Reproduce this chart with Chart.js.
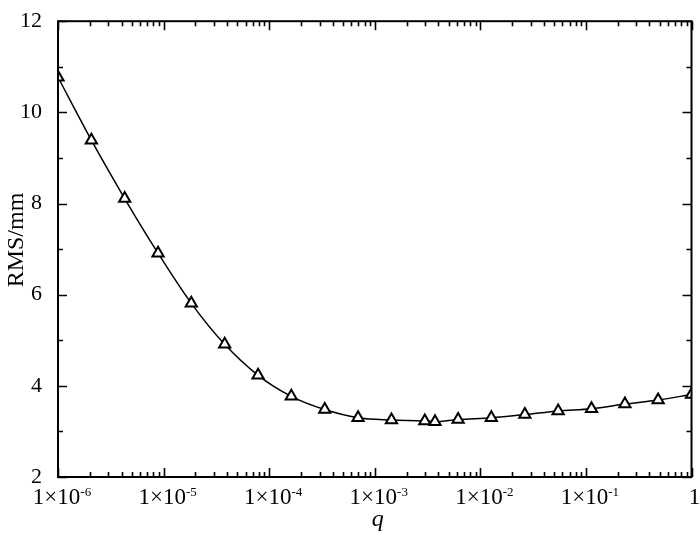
<!DOCTYPE html>
<html>
<head>
<meta charset="utf-8">
<script src="https://cdn.jsdelivr.net/npm/chart.js@4/dist/chart.umd.min.js"></script>
<style>
  html, body { margin: 0; padding: 0; background: #fff; }
  #wrap { width: 700px; height: 535px; font-family: 'Liberation Serif', 'Times New Roman', Times, serif; }
</style>
</head>
<body>
<div id="wrap"><canvas id="rmsChart"></canvas></div>
<script>
// q values
const qValues = [1e-6, 2.07e-6, 4.28e-6, 8.86e-6, 1.83e-5, 3.79e-5, 7.85e-5, 1.62e-4, 3.36e-4,
    6.95e-4, 1.44e-3, 2.98e-3, 3.72e-3, 6.16e-3, 1.27e-2, 2.64e-2, 5.46e-2, 1.13e-1, 2.34e-1,
    4.83e-1, 1];
const rmsValues = [10.77, 9.39, 8.11, 6.91, 5.81, 4.91, 4.23, 3.77, 3.48, 3.30, 3.25, 3.23, 3.21,
    3.26, 3.30, 3.37, 3.45, 3.50, 3.60, 3.69, 3.81];
const xDecades = [-6, -5, -4, -3, -2, -1, 0];
const yTicks = [2, 4, 6, 8, 10, 12];
const xTitle = 'q';
const yTitle = 'RMS/mm';

const serif = "'Liberation Serif', 'Times New Roman', Times, serif";

var points = qValues.map(function(q, i) {
    return { x: q, y: rmsValues[i] };
});

// frame, inward ticks on all four sides, 1x10^n labels and axis titles
const framePlugin = {
    id: 'frame',
    afterDraw: function(chart) {
        const ctx = chart.ctx;
        const a = chart.chartArea;
        const xs = chart.scales.x;
        const ys = chart.scales.y;
        ctx.save();
        ctx.strokeStyle = '#000';
        ctx.lineWidth = 1.6;
        ctx.lineCap = 'butt';
        ctx.beginPath();
        xDecades.forEach(function(e) {
            for (let m = 1; m <= 9; m++) {
                if (e === 0 && m > 1) break;
                const px = Math.round(xs.getPixelForValue(m * Math.pow(10, e))) + 0.5;
                const len = m === 1 ? 9 : 5;
                ctx.moveTo(px, a.bottom); ctx.lineTo(px, a.bottom - len);
                ctx.moveTo(px, a.top); ctx.lineTo(px, a.top + len);
            }
        });
        for (let v = 2; v <= 12; v++) {
            const py = Math.round(ys.getPixelForValue(v)) + 0.5;
            const len = v % 2 === 0 ? 9 : 5;
            ctx.moveTo(a.left, py); ctx.lineTo(a.left + len, py);
            ctx.moveTo(a.right, py); ctx.lineTo(a.right - len, py);
        }
        ctx.stroke();
        ctx.lineWidth = 2;
        ctx.strokeRect(a.left, a.top, a.right - a.left, a.bottom - a.top);

        ctx.fillStyle = '#000';
        ctx.textBaseline = 'alphabetic';
        ctx.textAlign = 'left';
        xDecades.forEach(function(e) {
            const px = xs.getPixelForValue(Math.pow(10, e));
            if (e === 0) {
                ctx.font = '23px ' + serif;
                const w = ctx.measureText('1').width;
                ctx.fillText('1', px + 3 - w / 2, 504);
                return;
            }
            ctx.font = '23px ' + serif;
            const main = '1\u00d710';
            const w1 = ctx.measureText(main).width;
            ctx.font = '13px ' + serif;
            const sup = String(e);
            const w2 = ctx.measureText(sup).width;
            const x0 = px + 4 - (w1 + w2) / 2;
            ctx.font = '23px ' + serif;
            ctx.fillText(main, x0, 504);
            ctx.font = '13px ' + serif;
            ctx.fillText(sup, x0 + w1, 496);
        });

        ctx.textAlign = 'center';
        ctx.textBaseline = 'middle';
        ctx.font = 'italic 24px ' + serif;
        ctx.fillText(xTitle, (a.left + a.right) / 2 + 3, 520);
        ctx.translate(17, 240);
        ctx.rotate(-Math.PI / 2);
        ctx.font = '24px ' + serif;
        ctx.fillText(yTitle, 0, 0);
        ctx.restore();
    }
};

function drawChart() {
    new Chart(document.getElementById('rmsChart').getContext('2d'), {
        type: 'line',
        data: {
            datasets: [{
                data: points,
                borderColor: '#000',
                borderWidth: 1.5,
                cubicInterpolationMode: 'monotone',
                pointStyle: 'triangle',
                pointRadius: 6.5,
                pointBorderWidth: 2,
                pointBackgroundColor: '#fff',
                pointBorderColor: '#000'
            }]
        },
        options: {
            responsive: true,
            maintainAspectRatio: false,
            animation: false,
            layout: { padding: { top: 16, right: 8, left: 0, bottom: 0 } },
            plugins: {
                legend: { display: false },
                tooltip: { enabled: false }
            },
            scales: {
                x: {
                    type: 'logarithmic',
                    min: 1e-6,
                    max: 1,
                    grid: { display: false },
                    border: { display: false },
                    ticks: { display: false },
                    afterFit: function(scale) { scale.height = 58; }
                },
                y: {
                    min: 2,
                    max: 12,
                    grid: { display: false },
                    border: { display: false },
                    afterBuildTicks: function(scale) {
                        scale.ticks = yTicks.map(function(v) { return { value: v }; });
                    },
                    ticks: {
                        color: '#000',
                        padding: 8,
                        font: { family: serif, size: 22 }
                    },
                    afterFit: function(scale) { scale.width = 58; }
                }
            }
        },
        plugins: [framePlugin]
    });
}

Promise.all([
    document.fonts.load("22px 'Liberation Serif'"),
    document.fonts.load("italic 24px 'Liberation Serif'")
]).then(drawChart, drawChart);
</script>
</body>
</html>
